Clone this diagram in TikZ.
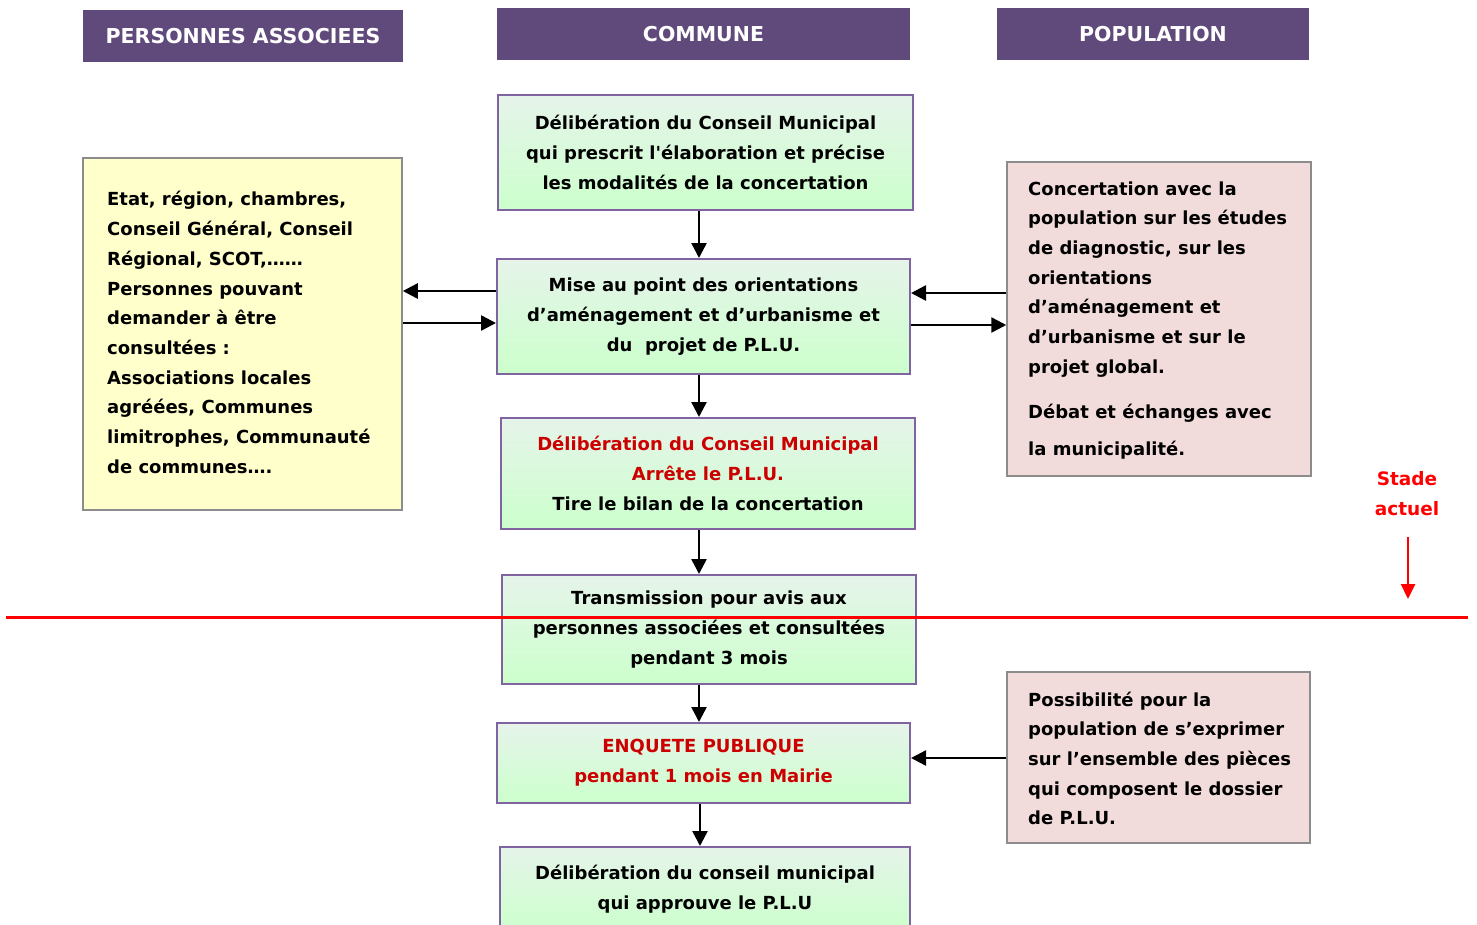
\documentclass[tikz,border=0pt]{standalone}
\usepackage{fontspec}
\setmainfont{DejaVu Sans}[Ligatures=TeXOff]
\usetikzlibrary{arrows.meta}
\definecolor{hdr}{HTML}{604A7B}
\definecolor{gborder}{HTML}{8064A2}
\definecolor{gtop}{HTML}{E6F4EA}
\definecolor{gbot}{HTML}{CCFFCC}
\definecolor{ybox}{HTML}{FFFFCC}
\definecolor{pbox}{HTML}{F2DCDB}
\definecolor{boxgray}{HTML}{8C8C8C}
\definecolor{dred}{HTML}{CC0000}
\definecolor{bred}{HTML}{FF0000}
\tikzset{
  hdrbox/.style={fill=hdr, text=white, inner sep=0pt, font=\bfseries\fontsize{20.5}{24}\selectfont},
  greenbox/.style={draw=gborder, line width=2pt, top color=gtop, bottom color=gbot,
    inner sep=0pt, align=center, font=\bfseries\fontsize{18}{29.7}\selectfont},
  yellowbox/.style={draw=boxgray, line width=1.5pt, fill=ybox, inner sep=0pt},
  pinkbox/.style={draw=boxgray, line width=1.5pt, fill=pbox, inner sep=0pt},
  sidetext/.style={inner sep=0pt, align=left, anchor=west, font=\bfseries\fontsize{18}{29.7}\selectfont},
  conn/.style={line width=2.5pt, -{Triangle[length=15pt,width=15pt]}},
  redconn/.style={bred, line width=2.5pt, -{Triangle[length=15pt,width=14pt]}},
}
\begin{document}
\begin{tikzpicture}[x=1pt,y=-1pt]
\useasboundingbox (0,0) rectangle (1477,924);
\clip (0,0) rectangle (1477,924);
% headers
\node[hdrbox, minimum width=320pt, minimum height=52pt] (h1) at (243,36) {PERSONNES ASSOCIEES};
\node[hdrbox, minimum width=413pt, minimum height=52pt] (h2) at (703.5,34) {COMMUNE};
\node[hdrbox, minimum width=312pt, minimum height=52pt] (h3) at (1153,34) {POPULATION};
% central boxes
\node[greenbox, minimum width=415pt, minimum height=115pt] (b1) at (705.5,152.5)
  {Délibération du Conseil Municipal\\qui prescrit l'élaboration et précise\\les modalités de la concertation};
\node[greenbox, minimum width=413pt, minimum height=115pt] (b2) at (703.5,316.5)
  {Mise au point des orientations\\d’aménagement et d’urbanisme et\\du\ \ projet de P.L.U.};
\node[greenbox, minimum width=414pt, minimum height=111pt] (b3) at (708,473.5)
  {\textcolor{dred}{Délibération du Conseil Municipal}\\\textcolor{dred}{Arrête le P.L.U.}\\Tire le bilan de la concertation};
\node[greenbox, minimum width=414pt, minimum height=109pt] (b4) at (709,629.5)
  {Transmission pour avis aux\\personnes associées et consultées\\pendant 3 mois};
\node[greenbox, minimum width=413pt, minimum height=80pt] (b5) at (703.5,763)
  {\textcolor{dred}{ENQUETE PUBLIQUE}\\\textcolor{dred}{pendant 1 mois en Mairie}};
\node[greenbox, minimum width=410pt, minimum height=84pt] (b6) at (705,889)
  {Délibération du conseil municipal\\qui approuve le P.L.U};
% side boxes
\node[yellowbox, minimum width=319pt, minimum height=352pt] (yel) at (242.5,334) {};
\node[sidetext] (yeltxt) at (107,332.5)
  {Etat, région, chambres,\\Conseil Général, Conseil\\Régional, SCOT,……\\Personnes pouvant\\demander à être\\consultées :\\Associations locales\\agréées, Communes\\limitrophes, Communauté\\de communes….};
\node[pinkbox, minimum width=304pt, minimum height=314pt] (pk1) at (1159,319) {};
\node[sidetext] (pk1txt) at (1028,320.5)
  {Concertation avec la\\population sur les études\\de diagnostic, sur les\\orientations\\d’aménagement et\\d’urbanisme et sur le\\projet global.\\[15pt]Débat et échanges avec\\[8pt]la municipalité.};
\node[pinkbox, minimum width=303pt, minimum height=171pt] (pk2) at (1158.5,757.5) {};
\node[sidetext] (pk2txt) at (1028,758.5)
  {Possibilité pour la\\population de s’exprimer\\sur l’ensemble des pièces\\qui composent le dossier\\de P.L.U.};
% vertical connectors
\coordinate (ax) at (699,0);
\draw[conn] (b1.south -| ax) -- (b2.north -| ax);
\draw[conn] (b2.south -| ax) -- (b3.north -| ax);
\draw[conn] (b3.south -| ax) -- (b4.north -| ax);
\draw[conn] (b4.south -| ax) -- (b5.north -| ax);
\draw[conn] (b5.south -| 700,0) -- (b6.north -| 700,0);
% horizontal connectors
\draw[conn] (b2.west |- 0,291) -- (yel.east |- 0,291);
\draw[conn] (yel.east |- 0,323) -- (b2.west |- 0,323);
\draw[conn] (pk1.west |- 0,293) -- (b2.east |- 0,293);
\draw[conn] (b2.east |- 0,325) -- (pk1.west |- 0,325);
\draw[conn] (pk2.west |- 0,758) -- (b5.east |- 0,758);
% current stage
\coordinate (rl1) at (6,617);
\coordinate (rl2) at (1468,617);
\draw[bred, line width=3pt] (rl1) -- (rl2);
\node[inner sep=0pt, align=center, text=bred, font=\bfseries\fontsize{18.5}{30}\selectfont] (stade) at (1407,494) {Stade\\actuel};
\coordinate (sa1) at (1408,537);
\coordinate (sa2) at (1408,599);
\draw[redconn] (sa1) -- (sa2);
\end{tikzpicture}
\end{document}
